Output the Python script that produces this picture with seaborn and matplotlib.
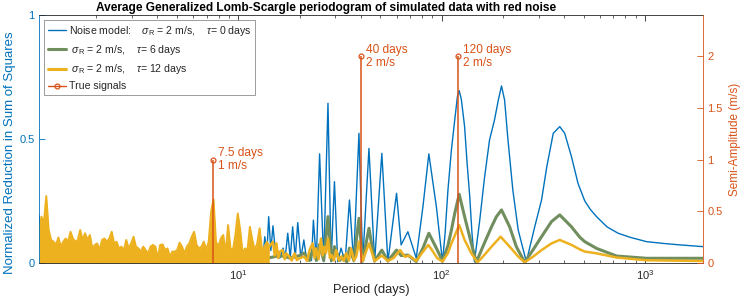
import matplotlib
matplotlib.use("Agg")
import matplotlib.pyplot as plt
import numpy as np
import seaborn as sns
from matplotlib.lines import Line2D
from matplotlib.legend_handler import HandlerLine2D
from matplotlib.ticker import FuncFormatter, LogLocator

# --- data ---------------------------------------------------------------
# dense short-period forest (envelope of the tau = 12 d curve), even in log P
forest_power = [
    0.120, 0.187, 0.160, 0.270, 0.133, 0.093, 0.086, 0.073, 0.103, 0.066,
    0.086, 0.099, 0.086, 0.126, 0.099, 0.086, 0.093, 0.133, 0.093, 0.120,
    0.093, 0.113, 0.059, 0.073, 0.079, 0.052, 0.093, 0.099, 0.086, 0.099,
    0.126, 0.079, 0.086, 0.059, 0.066, 0.052, 0.093, 0.059, 0.079, 0.106,
    0.066, 0.059, 0.046, 0.066, 0.052,
    0.039, 0.066, 0.073, 0.066, 0.019, 0.073, 0.075, 0.052, 0.059, 0.026,
    0.046, 0.046, 0.052, 0.082, 0.066, 0.039, 0.066, 0.079, 0.106, 0.126,
    0.073, 0.059, 0.066, 0.086, 0.052, 0.086, 0.207, 0.257, 0.086, 0.066,
    0.099, 0.113, 0.039, 0.153, 0.059, 0.052, 0.113, 0.200, 0.133, 0.039,
    0.059, 0.052, 0.146, 0.093,
    0.052, 0.079, 0.140, 0.052, 0.066, 0.086, 0.066,
]
forest_period = np.geomspace(1.046, 14.2, len(forest_power))

# noise model tau = 0 days
blue_period = [
    1.035, 1.05, 1.07, 12.9, 13.2, 13.5, 13.8, 14.1, 14.45, 14.8, 15.3, 16.0,
    16.6, 17.0, 17.5, 18.0, 18.5, 19.05, 19.6, 20.3, 21.0, 21.7, 22.5, 22.9,
    23.4, 24.2, 25.1, 26.3, 27.6, 28.6, 29.7, 30.8, 32.0, 33.5, 35.2, 36.9,
    39.2, 40.9, 43.9, 46.8, 50.8, 54.4, 60.0, 63.2, 68.2, 75.0, 80.9, 86.5,
    94.2, 101, 104, 107.4, 111.7, 116, 119.5, 122, 125, 129.7, 133.5, 137.5,
    141, 145, 154, 162, 172, 182, 190, 197, 204, 212, 224, 238, 261, 287,
    310, 329, 354, 381, 403, 435, 469, 506, 540, 578, 650, 738, 842, 1019,
    1228, 1487, 1930,
]
blue_power = [
    0.19, 0.19, 0.02, 0.01, 0.02, 0.106, 0.03, 0.187, 0.05, 0.15, 0.03, 0.02,
    0.06, 0.02, 0.12, 0.02, 0.146, 0.02, 0.163, 0.02, 0.093, 0.01, 0.04, 0.01,
    0.173, 0.01, 0.44, 0.005, 0.644, 0.005, 0.328, 0.005, 0.06, 0.005, 0.254, 0.005,
    0.523, 0.005, 0.462, 0.005, 0.442, 0.005, 0.281, 0.073, 0.126, 0.02, 0.227, 0.44,
    0.227, 0.005, 0.12, 0.294, 0.456, 0.577, 0.67, 0.695, 0.66, 0.55, 0.40, 0.267,
    0.12, 0.005, 0.173, 0.335, 0.496, 0.577, 0.657, 0.714, 0.657, 0.496, 0.294, 0.133,
    0.005, 0.146, 0.254, 0.388, 0.523, 0.55, 0.523, 0.429, 0.32, 0.25, 0.215, 0.187,
    0.146, 0.12, 0.104, 0.086, 0.079, 0.073, 0.066,
]

# tau = 6 days
green_period = [
    14.0, 16.0, 18.0, 20.0, 21.0, 22.4, 23.4, 24.2, 25.1, 26.3, 27.6, 28.7,
    29.7, 31.5, 33.0, 34.2, 35.2, 37.0, 39.2, 40.9, 43.9, 46.8, 50.8, 54.4,
    60.0, 63.2, 68.2, 75.0, 80.9, 86.5, 94.2, 101, 107.4, 111.7, 116, 122,
    129.7, 140, 148, 162, 176, 186, 197, 216, 233, 256, 281, 310, 347, 381,
    435, 478, 506, 578, 726, 1019, 1930,
]
green_power = [
    0.02, 0.03, 0.02, 0.03, 0.04, 0.01, 0.06, 0.01, 0.075, 0.01, 0.187, 0.01,
    0.066, 0.01, 0.03, 0.005, 0.06, 0.01, 0.18, 0.008, 0.14, 0.008, 0.052, 0.008,
    0.052, 0.03, 0.032, 0.006, 0.06, 0.12, 0.06, 0.008, 0.07, 0.133, 0.20, 0.277,
    0.187, 0.079, 0.003, 0.079, 0.146, 0.187, 0.214, 0.146, 0.066, 0.003, 0.052, 0.106,
    0.167, 0.194, 0.146, 0.104, 0.086, 0.059, 0.028, 0.019, 0.019,
]

# tau = 12 days (beyond the dense forest)
yellow_period = [
    14.2, 14.8, 15.1, 15.4, 15.7, 16.0, 16.5, 16.9, 17.2, 17.8, 18.3, 18.9,
    19.4, 20.0, 21.1, 21.8, 22.4, 23.2, 23.7, 24.1, 24.8, 25.5, 26.0, 26.5,
    27.0, 27.6, 28.2, 28.8, 29.5, 30.3, 31.2, 32.1, 33.0, 33.9, 35.0, 35.9,
    37.0, 38.0, 39.2, 40.9, 43.9, 46.8, 50.8, 54.4, 58, 62.5, 66, 69, 75, 80,
    86, 90, 95, 101, 107.4, 111.7, 116, 122, 129.7, 140, 150, 162, 176, 195,
    216, 238, 256, 281, 310, 347, 381, 435, 478, 506, 578, 726, 1019, 1930,
]
yellow_power = [
    0.066, 0.086, 0.03, 0.079, 0.02, 0.046, 0.052, 0.015, 0.039, 0.026, 0.01, 0.039,
    0.012, 0.019, 0.026, 0.008, 0.052, 0.079, 0.02, 0.059, 0.015, 0.099, 0.03, 0.066,
    0.04, 0.099, 0.02, 0.032, 0.01, 0.052, 0.01, 0.026, 0.008, 0.039, 0.01, 0.059,
    0.01, 0.026, 0.086, 0.008, 0.079, 0.008, 0.03, 0.008, 0.02, 0.052, 0.025, 0.03,
    0.008, 0.04, 0.073, 0.05, 0.02, 0.006, 0.04, 0.079, 0.11, 0.153, 0.093, 0.039,
    0.002, 0.032, 0.066, 0.106, 0.066, 0.026, 0.003, 0.025, 0.052, 0.079, 0.093, 0.073,
    0.055, 0.046, 0.039, 0.022, 0.011, 0.008,
]

# injected signals
signal_period = [7.5, 40, 120]
signal_amp = [1, 2, 2]

labels = [
    r"Noise model:    $\sigma_{\mathrm{R}}$ = 2 m/s,    $\tau$= 0 days",
    r" $\sigma_{\mathrm{R}}$ = 2 m/s,    $\tau$= 6 days",
    r" $\sigma_{\mathrm{R}}$ = 2 m/s,    $\tau$= 12 days",
    "True signals",
]

blue = "#0072BD"
green = "#718E5E"
yellow = "#EDB120"
orange = "#D95319"
dark = "#262626"

sns.set_style("ticks")
plt.rcParams["font.family"] = ["Liberation Sans", "DejaVu Sans"]
plt.rcParams["mathtext.fontset"] = "custom"
plt.rcParams["mathtext.rm"] = "Liberation Sans"
plt.rcParams["mathtext.it"] = "Liberation Sans:italic"
plt.rcParams["mathtext.bf"] = "Liberation Sans:bold"


class HandlerEndMarker(HandlerLine2D):
    # marker at the right end of the legend line, like a MATLAB stem entry
    def get_xdata(self, legend, xdescent, ydescent, width, height, fontsize):
        xdata = np.array([-xdescent, -xdescent + width])
        return xdata, np.array([-xdescent + width])


fig = plt.figure(figsize=(7.44, 2.98), dpi=100)
ax = fig.add_axes([39 / 744, 35 / 298, 664 / 744, 248 / 298])

sns.lineplot(x=blue_period, y=blue_power, ax=ax, color=blue, linewidth=1.0,
             estimator=None, sort=False, zorder=2)
sns.lineplot(x=green_period, y=green_power, ax=ax, color=green, linewidth=2.2,
             estimator=None, sort=False, zorder=2.1)
ax.fill_between(forest_period, 0, forest_power, color=yellow, linewidth=0, zorder=2.2)
sns.lineplot(x=forest_period, y=forest_power, ax=ax, color=yellow, linewidth=1.4,
             estimator=None, sort=False, zorder=2.2)
sns.lineplot(x=yellow_period, y=yellow_power, ax=ax, color=yellow, linewidth=1.8,
             estimator=None, sort=False, zorder=2.3)

ax.set_xscale("log")
ax.set_xlim(1.046, 1930)
ax.set_ylim(0, 1)
ax.set_yticks([0, 0.5, 1])
ax.yaxis.set_major_formatter(FuncFormatter(lambda v, p: f"{v:g}"))
ax.xaxis.set_minor_locator(LogLocator(base=10, subs=np.arange(2, 10)))
ax.tick_params(axis="x", which="both", direction="in", top=True, bottom=True,
               colors=dark, labelsize=8)
ax.tick_params(axis="x", which="major", length=4, width=0.6)
ax.tick_params(axis="x", which="minor", length=2.2, width=0.5)
ax.tick_params(axis="y", direction="in", length=4, width=0.6, colors=blue,
               labelsize=8, pad=3)
ax.set_xlabel("Period (days)", fontsize=9.3, color=dark, labelpad=2)
ax.set_ylabel("Normalized Reduction in Sum of Squares", fontsize=9.5, color=blue)
ax.yaxis.set_label_coords((16 - 39) / 664, 0.446)
title = ax.set_title(
    "Average Generalized Lomb-Scargle periodogram of simulated data with red noise",
    fontsize=8.6, fontweight="bold", color="black", pad=3)
title.set_x((326 - 39) / 664)
for side in ["top", "bottom"]:
    ax.spines[side].set_color(dark)
    ax.spines[side].set_linewidth(0.6)
ax.spines["left"].set_color(blue)
ax.spines["left"].set_linewidth(0.6)
ax.spines["right"].set_visible(False)

ax2 = ax.twinx()
stems = ax2.stem(signal_period, signal_amp, linefmt="-", markerfmt="o", basefmt=" ")
stems.stemlines.set_color(orange)
stems.stemlines.set_linewidth(1.1)
stems.markerline.set_color(orange)
stems.markerline.set_markerfacecolor("none")
stems.markerline.set_markersize(3.5)
stems.markerline.set_markeredgewidth(0.9)
for p, a in zip(signal_period, signal_amp):
    ax2.annotate(f"{p:g} days\n{a:g} m/s", xy=(p, a), xytext=(3.5, 0),
                 textcoords="offset points", ha="left", va="center",
                 color=orange, fontsize=8.6, linespacing=1.15)
ax2.set_ylim(0, 2.4)
ax2.set_yticks([0, 0.5, 1, 1.5, 2])
ax2.yaxis.set_major_formatter(FuncFormatter(lambda v, p: f"{v:g}"))
ax2.tick_params(axis="y", direction="in", length=4, width=0.6, colors=orange,
                labelsize=8, pad=3)
ax2.set_ylabel("Semi-Amplitude (m/s)", fontsize=8.5, color=orange)
ax2.yaxis.set_label_coords((729 - 39) / 664, 0.5)
for side in ["top", "bottom", "left"]:
    ax2.spines[side].set_visible(False)
ax2.spines["right"].set_color(orange)
ax2.spines["right"].set_linewidth(0.6)

handles = [
    Line2D([], [], color=blue, linewidth=1.0),
    Line2D([], [], color=green, linewidth=2.2),
    Line2D([], [], color=yellow, linewidth=2.2),
    Line2D([], [], color=orange, linewidth=1.0, marker="o", markersize=3.5,
           markerfacecolor="none", markeredgewidth=0.9),
]
leg = ax2.legend(handles, labels, loc="upper left", bbox_to_anchor=(0.008, 0.98),
                 fontsize=7.6, frameon=True, fancybox=False, framealpha=1,
                 edgecolor="#8c8c8c", handlelength=1.7, handletextpad=0.25,
                 borderpad=0.35, labelspacing=0.5, borderaxespad=0,
                 handler_map={handles[3]: HandlerEndMarker()})
leg.get_frame().set_linewidth(0.6)
leg.set_zorder(10)

fig.savefig("out.png", dpi=100)
